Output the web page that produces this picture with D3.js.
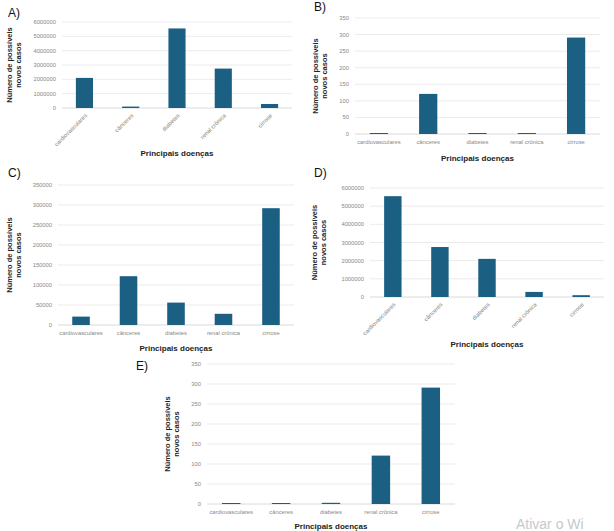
<!DOCTYPE html>
<html>
<head>
<meta charset="utf-8">
<style>
body { margin: 0; background: #fff; }
text { font-family: "Liberation Sans", Arial, sans-serif; }
</style>
</head>
<body>
<svg id="chart" width="614" height="531"></svg>
<script src="https://cdn.jsdelivr.net/npm/d3@7"></script>
<script>
var categoriesA = ["cardiovasculares", "cânceres", "diabetes", "renal crônica", "cirrose"];
var categoriesE = ["cardiovasculares", "cânceres", "diabetes", "renal crônica", "cirrose"];
var valuesA = [2100000, 100000, 5550000, 2750000, 280000];
var valuesB = [1, 121, 3, 1, 291];
var valuesC = [21000, 122000, 56000, 28000, 292000];
var valuesD = [5550000, 2750000, 2100000, 280000, 100000];
var valuesE = [1, 1, 3, 121, 291];
var ticksBig = [0, 1000000, 2000000, 3000000, 4000000, 5000000, 6000000];
var ticksSmall = [0, 50, 100, 150, 200, 250, 300, 350];
var ticksC = [0, 50000, 100000, 150000, 200000, 250000, 300000, 350000];

var svg = d3.select("#chart");
var barColor = "#1b5f83";

function drawPanel(p) {
    var g = svg.append("g");
    var x = d3.scaleBand().domain(p.cats).range([p.x0, p.x1]).paddingInner(0.63).paddingOuter(0.3);
    var y = d3.scaleLinear().domain([0, p.ticks[p.ticks.length - 1]]).range([p.y0, p.y1]);

    //gridlines
    g.selectAll(".grid").data(p.ticks).enter().append("line")
        .attr("x1", p.x0).attr("x2", p.x1)
        .attr("y1", d => y(d)).attr("y2", d => y(d))
        .attr("stroke", d => d === 0 ? "#d0d0d0" : "#e6e6e6").attr("stroke-width", 0.8);

    g.selectAll(".tick").data(p.ticks).enter().append("text")
        .attr("x", p.x0 - 6).attr("y", d => y(d) + 2)
        .attr("text-anchor", "end").attr("font-size", 5.8).attr("fill", "#888")
        .text(d => d);

    g.selectAll("rect").data(p.vals).enter().append("rect")
        .attr("x", (d, i) => x(p.cats[i]))
        .attr("width", x.bandwidth())
        .attr("y", d => Math.min(y(d), p.y0 - 1))
        .attr("height", d => Math.max(p.y0 - y(d), 1))
        .attr("fill", barColor);

    p.cats.forEach(function (c, i) {
        var cx = x(c) + x.bandwidth() / 2;
        if (p.rotate) {
            g.append("text")
                .attr("transform", "translate(" + (cx + 3) + "," + (p.y0 + 8) + ") rotate(-45)")
                .attr("text-anchor", "end").attr("font-size", 5.8).attr("fill", "#888").text(c);
        } else {
            g.append("text").attr("x", cx).attr("y", p.y0 + 10)
                .attr("text-anchor", "middle").attr("font-size", 5.8).attr("fill", "#888").text(c);
        }
    });

    g.append("text").attr("x", (p.x0 + p.x1) / 2).attr("y", p.titleY)
        .attr("text-anchor", "middle").attr("font-size", 8).attr("font-weight", "bold")
        .attr("fill", "#222").text("Principais doenças");

    var yl = g.append("text")
        .attr("transform", "translate(" + p.ylX + "," + ((p.y0 + p.y1) / 2) + ") rotate(-90)")
        .attr("text-anchor", "middle").attr("font-size", 7.5).attr("font-weight", "bold").attr("fill", "#222");
    yl.append("tspan").attr("x", 0).attr("dy", 0).text("Número de possíveis");
    yl.append("tspan").attr("x", 0).attr("dy", 9).text("novos casos");

    g.append("text").attr("x", p.lx).attr("y", p.ly).attr("font-size", 12).attr("fill", "#111").text(p.label);
}

drawPanel({label: "A)", lx: 8, ly: 17, cats: categoriesA, vals: valuesA, ticks: ticksBig,
    x0: 62, x1: 292, y0: 108, y1: 22, rotate: true, titleY: 156, ylX: 12});
drawPanel({label: "B)", lx: 314, ly: 11, cats: categoriesA, vals: valuesB, ticks: ticksSmall,
    x0: 355, x1: 600, y0: 134, y1: 18, rotate: false, titleY: 161, ylX: 318});
drawPanel({label: "C)", lx: 8, ly: 177, cats: categoriesA, vals: valuesC, ticks: ticksC,
    x0: 58, x1: 294, y0: 325, y1: 185, rotate: false, titleY: 351, ylX: 12});
drawPanel({label: "D)", lx: 314, ly: 177, cats: categoriesA, vals: valuesD, ticks: ticksBig,
    x0: 370, x1: 604, y0: 297, y1: 188, rotate: true, titleY: 347, ylX: 317});
drawPanel({label: "E)", lx: 136, ly: 370, cats: categoriesE, vals: valuesE, ticks: ticksSmall,
    x0: 207, x1: 455, y0: 504, y1: 364, rotate: false, titleY: 529, ylX: 170});

svg.append("text").attr("x", 516).attr("y", 529).attr("font-size", 14)
    .attr("fill", "#c8c8c8").text("Ativar o Wi");
</script>
</body>
</html>
